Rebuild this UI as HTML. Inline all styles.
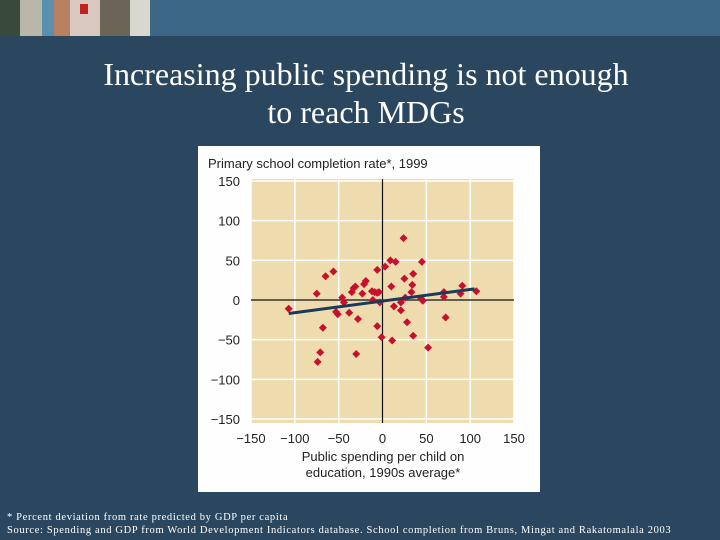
<!DOCTYPE html>
<html><head><meta charset="utf-8"><style>
body{margin:0;width:720px;height:540px;background:#2b4760;overflow:hidden;position:relative;font-family:"Liberation Sans",sans-serif}
.hdr{position:absolute;left:0;top:0;width:720px;height:36px;background:#3d6787}
.title{position:absolute;left:0;width:732px;text-align:center;color:#fff;font-family:"Liberation Serif",serif;font-size:32px;line-height:38px;top:55px}
.fn{position:absolute;left:7px;color:#fff;font-family:"Liberation Serif",serif;font-size:10.5px;letter-spacing:0.65px;white-space:nowrap}
</style></head><body>
<div class="hdr">
<svg width="150" height="36">
<rect x="0" y="0" width="20" height="36" fill="#3a4a3a"/><rect x="20" y="0" width="22" height="36" fill="#b9b8a8"/><rect x="42" y="0" width="12" height="36" fill="#5a8fb0"/><rect x="54" y="0" width="16" height="36" fill="#b88060"/><rect x="70" y="0" width="30" height="36" fill="#d8c8c0"/><rect x="80" y="4" width="8" height="10" fill="#c02020"/><rect x="100" y="0" width="50" height="36" fill="#6b6558"/><rect x="130" y="0" width="20" height="36" fill="#d8d8d0"/>
</svg></div>
<div class="title">Increasing public spending is not enough<br>to reach MDGs</div>
<svg style="position:absolute;left:198px;top:146px" width="342" height="346" id="chart">
<rect x="0" y="0" width="342" height="346" fill="#fefefe"/>
<text x="10" y="22" font-size="13" fill="#222">Primary school completion rate*, 1999</text>
<text x="185" y="315" font-size="13" fill="#222" text-anchor="middle">Public spending per child on</text>
<text x="185" y="331" font-size="13" fill="#222" text-anchor="middle">education, 1990s average*</text>
<g id="g"></g>
</svg>
<div class="fn" style="top:512px">* Percent deviation from rate predicted by GDP per capita</div>
<div class="fn" style="top:525px">Source: Spending and GDP from World Development Indicators database. School completion from Bruns, Mingat and Rakatomalala 2003</div>
<script>
const xTicks=[-150,-100,-50,0,50,100,150];
const yTicks=[150,100,50,0,-50,-100,-150];
const xVals=[-107,-75,-65,-56,-68,-71,-74,-46,-44,-53,-51,-38,-35,-33,-31,-28,-30,-23,-21,-19,-12,-9,-11,-6,-4,-6,-3,-6,-1,3,9,10,11,13,15,21,21,24,25,26,28,35,34,33,35,45,44,46,52,70,70,72,89,91,107];
const yVals=[-11,8,30,36,-35,-66,-78,3,-3,-15,-18,-16,10,15,17,-24,-68,8,20,24,11,10,0,9,10,38,-3,-33,-47,42,50,17,-51,-8,48,-3,-13,78,27,3,-28,33,19,10,-45,48,2,-1,-60,10,4,-22,8,18,11];
const fitX=[-107,105];
const fitY=[-17,14];
const X0=53,X1=316,Y0=35,Y1=273;
const sx=v=>X0+(v+150)/300*(X1-X0);
const sy=v=>Y1-(v+150)/300*(Y1-Y0);
const g=document.getElementById('g');const NS='http://www.w3.org/2000/svg';
function mk(t,a){const e=document.createElementNS(NS,t);for(const k in a)e.setAttribute(k,a[k]);g.appendChild(e);return e;}
const bg=mk('rect',{x:X0,y:Y0-2,width:X1-X0,height:Y1-Y0+6,fill:'#efdcae'});


xTicks.forEach(v=>{if(v===0)return;const l=mk('line',{x1:sx(v),x2:sx(v),y1:Y0-2,y2:Y1+4,stroke:'#fff','stroke-width':1.5});

});
yTicks.forEach(v=>{if(v===0)return;const l=mk('line',{x1:X0,x2:X1,y1:sy(v),y2:sy(v),stroke:'#fff','stroke-width':1.5});

});
const ax=mk('line',{x1:X0,x2:X1,y1:sy(0),y2:sy(0),stroke:'#111','stroke-width':1.2});


const ay=mk('line',{x1:sx(0),x2:sx(0),y1:Y0-2,y2:Y1+4,stroke:'#111','stroke-width':1.2});


yTicks.forEach(v=>{const t=mk('text',{x:42,y:sy(v)+5,'font-size':13,'text-anchor':'end',fill:'#222'});t.textContent=String(v).replace('-','\u2212');

});
xTicks.forEach(v=>{const t=mk('text',{x:sx(v),y:297,'font-size':13,'text-anchor':'middle',fill:'#222'});t.textContent=String(v).replace('-','\u2212');

});
xVals.forEach((v,i)=>{const cx=sx(v),cy=sy(yVals[i]),r=4;const p=mk('polygon',{points:`${cx},${cy-r} ${cx+r},${cy} ${cx},${cy+r} ${cx-r},${cy}`,fill:'#c8102e'});

});
const fl=mk('line',{x1:sx(fitX[0]),y1:sy(fitY[0]),x2:sx(fitX[1]),y2:sy(fitY[1]),stroke:'#1d3a5a','stroke-width':3});


</script>
</body></html>
